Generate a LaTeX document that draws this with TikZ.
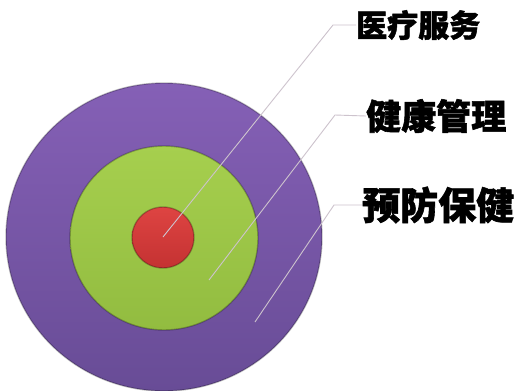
\documentclass[tikz,border=0pt]{standalone}
\usepackage{fontspec}
\newfontfamily\cjk{Noto Sans CJK SC}[BoldFeatures={FakeBold=1.6}]
\definecolor{purpT}{RGB}{133,96,182}
\definecolor{purpB}{RGB}{104,76,150}
\definecolor{grnT}{RGB}{166,207,78}
\definecolor{grnB}{RGB}{146,188,64}
\definecolor{redT}{RGB}{222,68,66}
\definecolor{redB}{RGB}{196,50,50}
\definecolor{leader}{RGB}{205,195,205}
\tikzset{
  lbl/.style={anchor=west, inner sep=0pt, text=black},
  leaderline/.style={draw=leader, line width=0.9pt},
  rim/.style={draw=black, opacity=0.25, line width=1.4pt},
}
\begin{document}
\begin{tikzpicture}[x=1pt,y=-1pt]
\useasboundingbox (0,0) rectangle (517,391);
\fill[white] (0,0) rectangle (517,391);
% circles
\shade[top color=purpT, bottom color=purpB] (164,237) ellipse [x radius=158, y radius=154];
\draw[rim] (164,237) ellipse [x radius=158, y radius=154];
\shade[top color=grnT, bottom color=grnB] (164,238) ellipse [x radius=94, y radius=92];
\draw[rim] (164,238) ellipse [x radius=94, y radius=92];
\shade[top color=redT, bottom color=redB] (163,237.5) ellipse [x radius=31, y radius=30.5];
\draw[rim] (163,237.5) ellipse [x radius=31, y radius=30.5];
% labels
\node[lbl, font=\cjk\bfseries\fontsize{31}{31}\selectfont] (t1) at (356,25) {医疗服务};
\node[lbl, font=\cjk\bfseries\fontsize{35}{35}\selectfont] (t2) at (366,116) {健康管理};
\node[lbl, font=\cjk\bfseries\fontsize{38}{38}\selectfont] (t3) at (362,205) {预防保健};
% leader coordinates
\coordinate (s1) at (163,237);
\coordinate (b1) at (333,25);
\coordinate (s2) at (209,280);
\coordinate (b2) at (335,115);
\coordinate (s3) at (255,322);
\coordinate (b3) at (334,205);
\draw[leaderline] (s1) -- (b1) -- (t1.west);
\draw[leaderline] (s2) -- (b2) -- (t2.west);
\draw[leaderline] (s3) -- (b3) -- (t3.west);
\end{tikzpicture}
\end{document}
